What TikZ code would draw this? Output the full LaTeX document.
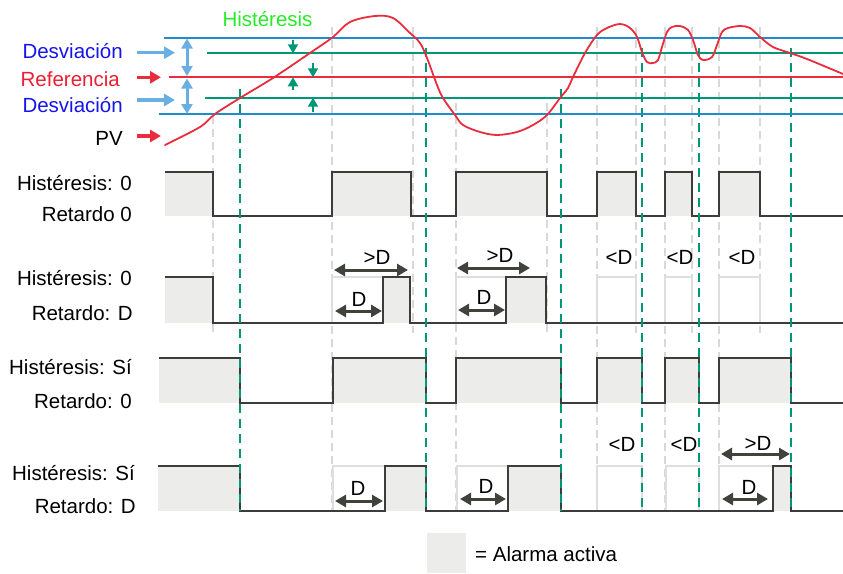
\documentclass[tikz,border=0pt]{standalone}
\usepackage{fontspec}
\setmainfont{Liberation Sans}
\usetikzlibrary{arrows.meta}
\definecolor{devblue}{RGB}{30,140,205}
\definecolor{lblue}{RGB}{105,175,225}
\definecolor{hgreen}{RGB}{0,150,120}
\definecolor{pvred}{RGB}{232,45,60}
\definecolor{txtblue}{RGB}{20,20,235}
\definecolor{txtred}{RGB}{235,30,50}
\definecolor{txtgreen}{RGB}{40,235,40}
\definecolor{sig}{RGB}{60,60,58}
\definecolor{act}{RGB}{236,236,234}
\definecolor{gdash}{RGB}{216,216,216}
\definecolor{gbox}{RGB}{222,222,222}
\definecolor{darr}{RGB}{64,66,60}
\tikzset{
  txt/.style={font=\fontsize{20.5}{24}\selectfont, inner sep=0pt},
  sigline/.style={draw=sig, line width=2pt, line join=miter},
  gdashed/.style={draw=gdash, line width=1.6pt, dash pattern=on 8pt off 5pt},
  tdashed/.style={draw=hgreen, line width=2pt, dash pattern=on 9pt off 6pt},
  ghost/.style={draw=gbox, line width=1.5pt},
  dimarrow/.style={draw=darr, line width=3pt, {Triangle[length=11pt,width=12pt]}-{Triangle[length=11pt,width=12pt]}},
  devline/.style={draw=devblue, line width=2pt},
  hysline/.style={draw=hgreen, line width=2pt},
  refline/.style={draw=pvred, line width=2pt},
  pvline/.style={draw=pvred, line width=1.8pt, line cap=round},
  lbarrow/.style={draw=lblue, line width=3.5pt, -{Triangle[length=11pt,width=12pt]}},
  lbdouble/.style={draw=lblue, line width=3pt, {Triangle[length=10pt,width=11pt]}-{Triangle[length=10pt,width=11pt]}},
  redarrow/.style={draw=pvred, line width=3.5pt, -{Triangle[length=11pt,width=12pt]}},
  harrow/.style={draw=hgreen, line width=2pt, -{Triangle[length=9pt,width=10pt]}},
}
\begin{document}
\begin{tikzpicture}[x=1pt,y=-1pt]
\useasboundingbox (0,0) rectangle (843,573);

% gray dashed guide lines
\foreach \x/\t/\b in {213/116/333, 332/27/511, 413/27/333, 456/103/511, 547/103/333, 597/27/511, 636/27/333, 665/27/511, 692/27/333, 719/27/511, 760/27/333}
  \draw[gdashed] (\x,\t) -- (\x,\b);

% active fills
\foreach \a/\b in {165/213,332/411,456/547,597/636,665/692,719/760}
  \fill[act] (\a,172) rectangle (\b,216);
\foreach \a/\b in {165/213,383/410,506/546}
  \fill[act] (\a,277) rectangle (\b,323);
\foreach \a/\b in {159/240,333/426,456/561,597/642,665/699,719/791}
  \fill[act] (\a,358) rectangle (\b,403);
\foreach \a/\b in {158/240,385/426,508/561,773/791}
  \fill[act] (\a,466) rectangle (\b,511);

% ghost boxes (delay not reached)
\draw[ghost] (332,323) -- (332,277) -- (383,277);
\draw[ghost] (456,323) -- (456,277) -- (506,277);
\foreach \a/\b in {597/636,665/692,719/760}
  \draw[ghost] (\a,323) -- (\a,277) -- (\b,277) -- (\b,323);
\draw[ghost] (333,511) -- (333,466) -- (385,466);
\draw[ghost] (457,511) -- (457,466) -- (508,466);
\draw[ghost] (597,511) -- (597,466) -- (642,466) -- (642,511);
\draw[ghost] (666,511) -- (666,466) -- (699,466) -- (699,511);
\draw[ghost] (719,511) -- (719,466) -- (773,466);

% signals
\draw[sigline] (165,172) -- (213,172) -- (213,216) -- (332,216) -- (332,172) -- (411,172) -- (411,216) -- (456,216) -- (456,172) -- (547,172) -- (547,216) -- (597,216) -- (597,172) -- (636,172) -- (636,216) -- (665,216) -- (665,172) -- (692,172) -- (692,216) -- (719,216) -- (719,172) -- (760,172) -- (760,216) -- (843,216);
\draw[sigline] (165,277) -- (213,277) -- (213,323) -- (383,323) -- (383,277) -- (410,277) -- (410,323) -- (506,323) -- (506,277) -- (546,277) -- (546,323) -- (843,323);
\draw[sigline] (159,358) -- (240,358) -- (240,403) -- (333,403) -- (333,358) -- (426,358) -- (426,403) -- (456,403) -- (456,358) -- (561,358) -- (561,403) -- (597,403) -- (597,358) -- (642,358) -- (642,403) -- (665,403) -- (665,358) -- (699,358) -- (699,403) -- (719,403) -- (719,358) -- (791,358) -- (791,403) -- (843,403);
\draw[sigline] (158,466) -- (240,466) -- (240,511) -- (385,511) -- (385,466) -- (426,466) -- (426,511) -- (508,511) -- (508,466) -- (561,466) -- (561,511) -- (773,511) -- (773,466) -- (791,466) -- (791,511) -- (843,511);

% teal dashed lines (hysteresis crossings)
\foreach \x/\t in {240/89, 426/48, 561/89, 642/48, 699/48, 791/48}
  \draw[tdashed] (\x,\t) -- (\x,511);

% level lines
\draw[devline] (164,37.7) -- (843,37.7);
\draw[hysline] (207,53.3) -- (843,53.3);
\draw[refline] (169,77.3) -- (843,77.3);
\draw[hysline] (205,97.7) -- (843,97.7);
\draw[devline] (159,114.3) -- (843,114.3);

% process value curve
\draw[pvline] plot[smooth, tension=0.55] coordinates {
 (165,145) (200,127) (215,114) (240,98) (273,78) (310,53) (333,37) (350,22)
 (375,16) (393,18) (410,33) (420,43) (427,58) (437,85) (443,98) (455,115)
 (463,125) (480,132) (497,135) (517,132) (533,125) (547,115) (560,98) (568,88)
 (573,77) (585,53) (597,35) (607,28) (620,24) (630,28) (637,37) (642,52)
 (647,62) (653,63) (658,60) (662,47) (667,32) (672,27) (680,26) (688,30)
 (693,40) (698,55) (703,60) (712,57) (717,45) (722,32) (728,28) (740,26)
 (750,28) (760,37) (773,47) (790,53) (807,59) (843,74)};

% hysteresis arrows
\draw[harrow] (293,40) -- (293,53.3);
\draw[harrow] (313,63) -- (313,77.3);
\draw[harrow] (293,90) -- (293,77.3);
\draw[harrow] (313,112) -- (313,97.7);

% deviation double arrows
\draw[lbdouble] (187,38.5) -- (187,76);
\draw[lbdouble] (187,78.5) -- (187,114);

% top labels
\node[txt, text=txtblue, anchor=base east] (dev1) at (123,58) {Desviación};
\node[txt, text=txtred, anchor=base east] (ref) at (120,86) {Referencia};
\node[txt, text=txtblue, anchor=base east] (dev2) at (123,112) {Desviación};
\node[txt, anchor=base east] (pv) at (123,145) {PV};
\node[txt, text=txtgreen, anchor=base] (hys) at (267.5,26) {Histéresis};

\coordinate (a1s) at (137,52.7); \coordinate (a1e) at (175,52.7);
\coordinate (a2s) at (137,77.3); \coordinate (a2e) at (161,77.3);
\coordinate (a3s) at (137,100); \coordinate (a3e) at (175,100);
\coordinate (a4s) at (137,136); \coordinate (a4e) at (161,136);
\draw[lbarrow] (a1s) -- (a1e);
\draw[redarrow] (a2s) -- (a2e);
\draw[lbarrow] (a3s) -- (a3e);
\draw[redarrow] (a4s) -- (a4e);

% row labels
\node[txt, anchor=base east] (h1) at (132,190.5) {Histéresis: 0};
\node[txt, anchor=base east] (r1) at (132,221.7) {Retardo 0};
\node[txt, anchor=base east] (h2) at (132,285) {Histéresis: 0};
\node[txt, anchor=base east] (r2) at (133,320.5) {Retardo: D};
\node[txt, anchor=base east] (h3) at (132,374.5) {Histéresis: Sí};
\node[txt, anchor=base east] (r3) at (132,408) {Retardo: 0};
\node[txt, anchor=base east] (h4) at (135,480) {Histéresis: Sí};
\node[txt, anchor=base east] (r4) at (136,513.5) {Retardo: D};

% row 2 delay annotations
\coordinate (b1s) at (334,270); \coordinate (b1e) at (408,270);
\draw[dimarrow] (b1s) -- (b1e);
\node[txt] (gt1) at (377,257) {>D};
\coordinate (b2s) at (335,311); \coordinate (b2e) at (382,311);
\draw[dimarrow] (b2s) -- (b2e);
\node[txt] (d1) at (359,299) {D};
\coordinate (b3s) at (457,268); \coordinate (b3e) at (530,268);
\draw[dimarrow] (b3s) -- (b3e);
\node[txt] (gt2) at (500,255) {>D};
\coordinate (b4s) at (458,310); \coordinate (b4e) at (505,310);
\draw[dimarrow] (b4s) -- (b4e);
\node[txt] (d2) at (484,297) {D};
\node[txt] (lt1) at (619,257) {<D};
\node[txt] (lt2) at (680,257) {<D};
\node[txt] (lt3) at (742,257) {<D};

% row 4 delay annotations
\coordinate (c1s) at (335,501); \coordinate (c1e) at (383,501);
\draw[dimarrow] (c1s) -- (c1e);
\node[txt] (d3) at (358,488) {D};
\coordinate (c2s) at (460,499); \coordinate (c2e) at (506,499);
\draw[dimarrow] (c2s) -- (c2e);
\node[txt] (d4) at (486,486) {D};
\node[txt] (lt4) at (622,444) {<D};
\node[txt] (lt5) at (684,444) {<D};
\coordinate (c3s) at (721,454); \coordinate (c3e) at (790,454);
\draw[dimarrow] (c3s) -- (c3e);
\node[txt] (gt3) at (758,443) {>D};
\coordinate (c4s) at (722,499); \coordinate (c4e) at (768,499);
\draw[dimarrow] (c4s) -- (c4e);
\node[txt] (d5) at (749,487) {D};

% legend
\fill[act] (427,533) rectangle (466,573);
\node[txt, anchor=base west] (leg) at (475,561) {= Alarma activa};
\end{tikzpicture}
\end{document}
